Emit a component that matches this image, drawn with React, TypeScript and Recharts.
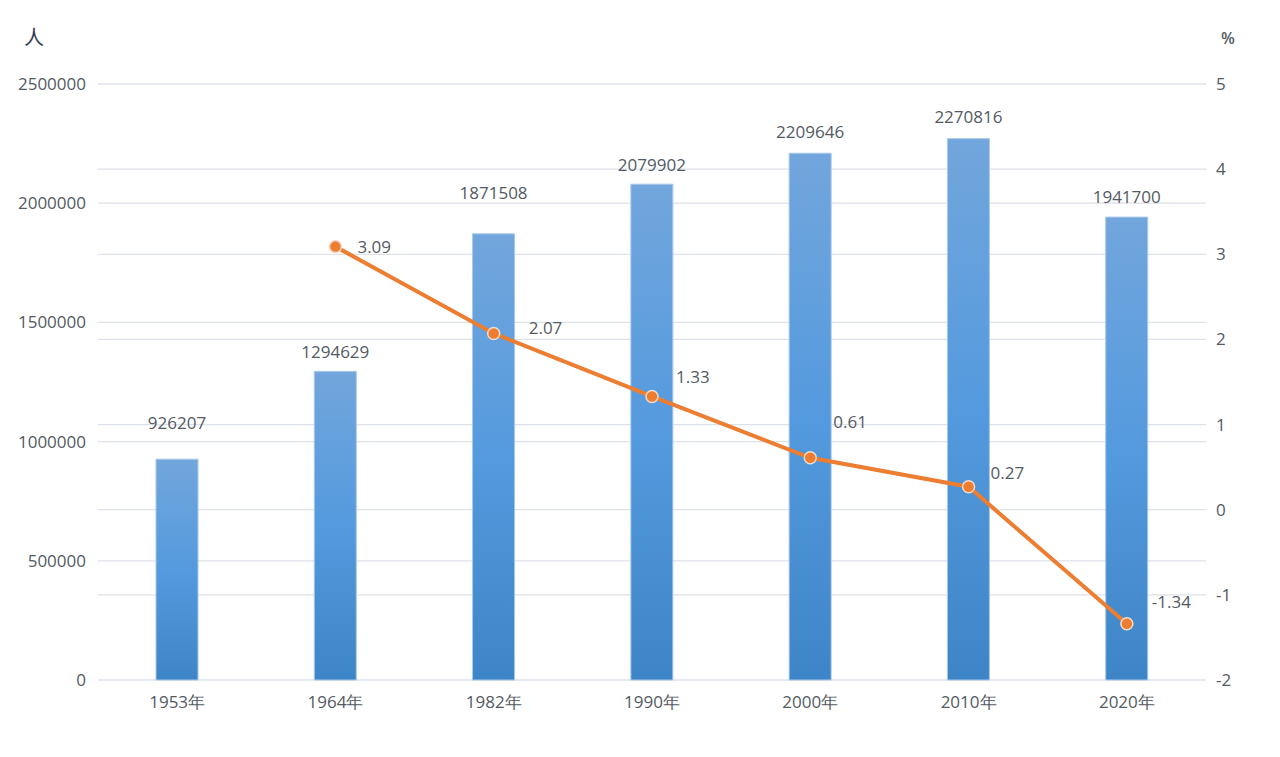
import React from 'react';
import {
  ComposedChart, Bar, Line, XAxis, YAxis, CartesianGrid, LabelList,
} from 'recharts';

const years = ['1953年', '1964年', '1982年', '1990年', '2000年', '2010年', '2020年'];
const population = [926207, 1294629, 1871508, 2079902, 2209646, 2270816, 1941700];
const growthRate = [null, 3.09, 2.07, 1.33, 0.61, 0.27, -1.34];

const leftTicks = [0, 500000, 1000000, 1500000, 2000000, 2500000];
const rightTicks = [-2, -1, 0, 1, 2, 3, 4, 5];

// label nudges so the text sits where it does in the source chart
const barLabelGap = [37, 20, 41, 20, 22, 22, 21];
const lineLabelShift = [[0, 0], [22, 0], [35, -6], [24, -20], [23, -36], [22, -14], [25, -22]];

const data = years.map((year, i) => ({
  year,
  population: population[i],
  rate: growthRate[i],
}));

const FONT = '"Open Sans", sans-serif';
const TEXT = '#535a63';
const GRID = '#dde2ea';
const SIZE = 17;

const BarValue = (props: any) => {
  const { x, y, width, value, index } = props;
  return (
    <text
      x={x + width / 2}
      y={y - barLabelGap[index]}
      textAnchor="middle"
      dominantBaseline="central"
      fill={TEXT}
      fontSize={SIZE}
      fontFamily={FONT}
    >
      {value}
    </text>
  );
};

const LineValue = (props: any) => {
  const { x, y, value, index } = props;
  if (value == null) return null;
  const [dx, dy] = lineLabelShift[index];
  return (
    <text
      x={x + dx}
      y={y + dy}
      textAnchor="start"
      dominantBaseline="central"
      fill={TEXT}
      fontSize={SIZE}
      fontFamily={FONT}
    >
      {value.toFixed(2)}
    </text>
  );
};

export default function App() {
  return (
    <div style={{ position: 'absolute', left: 0, top: 0, width: 1280, height: 757, background: '#fff' }}>
      <ComposedChart
        width={1280}
        height={757}
        data={data}
        margin={{ top: 84, right: 24, bottom: 37, left: 18 }}
      >
        <defs>
          <linearGradient id="barFill" x1="0" y1="0" x2="0" y2="1">
            <stop offset="0%" stopColor="#72a6dc" />
            <stop offset="50%" stopColor="#549ade" />
            <stop offset="100%" stopColor="#3e85c7" />
          </linearGradient>
        </defs>
        <CartesianGrid yAxisId="left" vertical={false} stroke={GRID} strokeWidth={1.2} />
        <CartesianGrid yAxisId="right" vertical={false} stroke={GRID} strokeWidth={1.2} />
        <XAxis
          dataKey="year"
          axisLine={false}
          tickLine={false}
          tickSize={0}
          tickMargin={16}
          height={40}
          tick={{ fill: TEXT, fontSize: SIZE, fontFamily: FONT }}
        />
        <YAxis
          yAxisId="left"
          orientation="left"
          width={80}
          domain={[0, 2500000]}
          ticks={leftTicks}
          axisLine={false}
          tickLine={false}
          tickSize={0}
          tickMargin={12}
          tick={{ fill: TEXT, fontSize: SIZE, fontFamily: FONT }}
        />
        <YAxis
          yAxisId="right"
          orientation="right"
          width={50}
          domain={[-2, 5]}
          ticks={rightTicks}
          axisLine={false}
          tickLine={false}
          tickSize={0}
          tickMargin={10}
          tick={{ fill: TEXT, fontSize: SIZE, fontFamily: FONT, textAnchor: 'start' }}
        />
        <Bar
          yAxisId="left"
          dataKey="population"
          barSize={42}
          fill="url(#barFill)"
          stroke="#a8c8ea"
          strokeWidth={1}
          isAnimationActive={false}
        >
          <LabelList dataKey="population" content={<BarValue />} />
        </Bar>
        <Line
          yAxisId="right"
          dataKey="rate"
          type="linear"
          stroke="#ed7d31"
          strokeWidth={4}
          dot={{ r: 6, fill: '#ed7d31', stroke: '#f3dccb', strokeWidth: 1.5 }}
          activeDot={false}
          connectNulls={false}
          isAnimationActive={false}
        >
          <LabelList dataKey="rate" content={<LineValue />} />
        </Line>
        <text x={34} y={36} textAnchor="middle" dominantBaseline="central" fill="#333f50" fontSize={20} fontFamily='"Noto Sans CJK SC", sans-serif'>
          人
        </text>
        <text x={1228} y={38} textAnchor="middle" dominantBaseline="central" fill={TEXT} fontSize={16} fontFamily={FONT} fontWeight={600}>
          %
        </text>
      </ComposedChart>
    </div>
  );
}
